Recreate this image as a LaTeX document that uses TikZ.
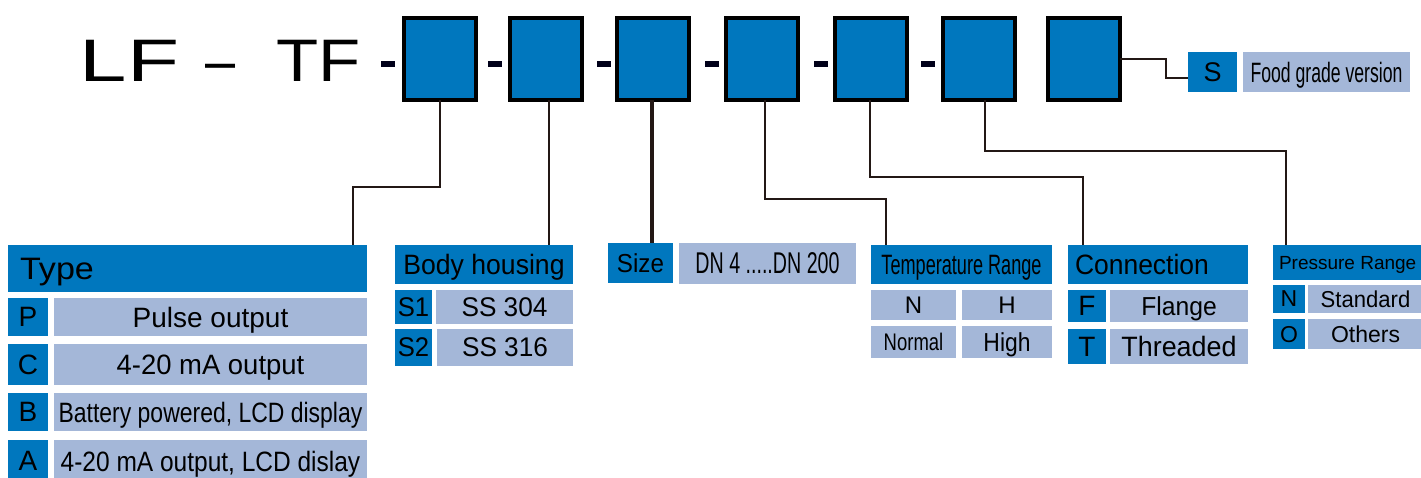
\documentclass[tikz,border=0pt]{standalone}
\usepackage{fontspec}
\setmainfont{Liberation Sans}
\usepackage{graphicx}
\definecolor{dkblue}{RGB}{0,119,190}
\definecolor{ltblue}{RGB}{164,183,216}
\definecolor{linecol}{RGB}{35,24,21}
\newcommand{\ft}[3]{{\fontsize{#1}{#1}\selectfont\scalebox{#2}[1]{#3}}}
\newcommand{\mkcell}[7]{\node[#2, minimum width={(#5-#3)*1pt}, minimum height={(#6-#4)*1pt}, anchor=north west] (#1) at (#3,#4) {#7};}
\tikzset{
  base/.style={inner sep=0pt, outer sep=0pt, text=black, text depth=0pt},
  dk/.style={base, fill=dkblue},
  lt/.style={base, fill=ltblue},
  lbl/.style={inner sep=0pt, outer sep=0pt, text=black, text depth=0pt},
  topbox/.style={draw=black, line width=4pt, fill=dkblue, minimum width=72pt, minimum height=82pt, inner sep=0pt, outer sep=0pt},
  dashbar/.style={fill=black!90!blue, minimum width=14pt, minimum height=6pt, inner sep=0pt, outer sep=0pt},
  conn/.style={draw=linecol, line width=2pt, line join=miter},
}
\begin{document}
\begin{tikzpicture}[x=1pt,y=-1pt]
\useasboundingbox (0,0) rectangle (1421,478);
\fill[white] (0,0) rectangle (1421,478);

% title
\node[lbl, anchor=base west] (title) at (79.8,82) {\fontsize{60}{60}\selectfont\scalebox{1.42}[1]{LF}\kern25.8pt\scalebox{0.9}[1]{\textendash}\kern41.4pt\scalebox{1.15}[1]{TF}};

% dashes
\node[dashbar] (d1) at (388,64.5) {};
\node[dashbar] (d2) at (494.5,64.5) {};
\node[dashbar] (d3) at (603.5,64.5) {};
\node[dashbar] (d4) at (712,64.5) {};
\node[dashbar] (d5) at (820.5,64.5) {};
\node[dashbar] (d6) at (928,64.5) {};

% top boxes
\node[topbox] (b1) at (439.7,59) {};
\node[topbox] (b2) at (546,59) {};
\node[topbox] (b3) at (652.5,59) {};
\node[topbox] (b4) at (761.7,59) {};
\node[topbox] (b5) at (870.5,59) {};
\node[topbox] (b6) at (978.5,59) {};
\node[topbox] (b7) at (1083.5,59) {};

% food grade
\mkcell{sk}{dk}{1188}{52}{1237}{92}{\ft{27}{1}{S}}
\mkcell{fg}{lt}{1243}{52}{1410}{92}{\ft{28}{0.63}{Food grade version}}

% Type
\mkcell{th}{dk}{8}{245}{367}{292}{}
\node[lbl, anchor=west] (thl) at (20,268.5) {\ft{31}{1.1}{Type}};
\mkcell{tpk}{dk}{8}{298}{48}{336}{\ft{28}{1}{P}}
\mkcell{tpv}{lt}{54}{298}{367}{336}{\ft{28}{1}{Pulse output}}
\mkcell{tck}{dk}{8}{344}{48}{385}{\ft{28}{1}{C}}
\mkcell{tcv}{lt}{54}{344}{367}{385}{\ft{28}{0.98}{4-20 mA output}}
\mkcell{tbk}{dk}{8}{393}{48}{431}{\ft{28}{1}{B}}
\mkcell{tbv}{lt}{54}{393}{367}{431}{\ft{28}{0.82}{Battery powered, LCD display}}
\mkcell{tak}{dk}{8}{440}{48}{482}{\ft{28}{1}{A}}
\mkcell{tav}{lt}{54}{440}{367}{482}{\ft{28}{0.875}{4-20 mA output, LCD dislay}}

% Body housing
\mkcell{bh}{dk}{395}{245}{573}{284}{\ft{28}{0.95}{Body housing}}
\mkcell{bs1k}{dk}{395}{290}{432}{324}{\ft{27}{0.95}{S1}}
\mkcell{bs1v}{lt}{436}{290}{573}{324}{\ft{27}{0.97}{SS 304}}
\mkcell{bs2k}{dk}{395}{329}{432}{366}{\ft{27}{0.95}{S2}}
\mkcell{bs2v}{lt}{437}{329}{573}{366}{\ft{27}{0.97}{SS 316}}

% Size
\mkcell{sz}{dk}{608}{243}{673}{283}{\ft{26}{0.93}{Size}}
\mkcell{szv}{lt}{679}{243}{856}{284}{\ft{30}{0.655}{DN 4 .....DN 200}}

% Temperature range
\mkcell{tr}{dk}{871}{245}{1052}{284}{\ft{28}{0.647}{Temperature Range}}
\mkcell{trn}{lt}{871}{290}{956}{320}{\ft{24}{1}{N}}
\mkcell{trh}{lt}{962}{290}{1052}{320}{\ft{24}{1}{H}}
\mkcell{trnv}{lt}{871}{326}{956}{358}{\ft{24}{0.77}{Normal}}
\mkcell{trhv}{lt}{962}{326}{1052}{358}{\ft{26}{0.88}{High}}

% Connection
\mkcell{co}{dk}{1068}{245}{1248}{284}{}
\node[lbl, anchor=west] (col) at (1075,264.5) {\ft{28}{0.945}{Connection}};
\mkcell{cfk}{dk}{1068}{290}{1106}{322}{\ft{28}{1}{F}}
\mkcell{cfv}{lt}{1110}{290}{1248}{322}{\ft{26}{0.95}{Flange}}
\mkcell{ctk}{dk}{1068}{329}{1106}{364}{\ft{28}{1}{T}}
\mkcell{ctv}{lt}{1110}{329}{1248}{364}{\ft{28}{0.96}{Threaded}}

% Pressure range
\mkcell{pr}{dk}{1273}{245}{1423}{280}{}
\node[lbl, anchor=west] (prl) at (1279,262.5) {\ft{19}{1}{Pressure Range}};
\mkcell{pnk}{dk}{1273}{285}{1305}{313}{\ft{23}{1}{N}}
\mkcell{pnv}{lt}{1308}{285}{1423}{313}{\ft{23}{0.96}{Standard}}
\mkcell{pok}{dk}{1273}{319}{1305}{349}{\ft{23}{1}{O}}
\mkcell{pov}{lt}{1308}{319}{1423}{349}{\ft{23}{1}{Others}}

% connectors
\draw[conn] (b1.south) |- (353,187) -- (th.north -| 353,0);
\draw[conn, line width=2.6pt] (b2.south -| 549,0) -- (bh.north -| 549,0);
\draw[conn, line width=4pt] (b3.south -| 652,0) -- (sz.north -| 652,0);
\draw[conn] (b4.south -| 765,0) |- (885.7,199) -- (tr.north -| 885.7,0);
\draw[conn] (b5.south -| 870,0) |- (1083.3,176.7) -- (co.north -| 1083.3,0);
\draw[conn] (b6.south -| 984.5,0) |- (1286,151) -- (pr.north -| 1286,0);
\draw[conn] (b7.east) -| (1166,78) -- (sk.west |- 0,78);
\end{tikzpicture}
\end{document}
